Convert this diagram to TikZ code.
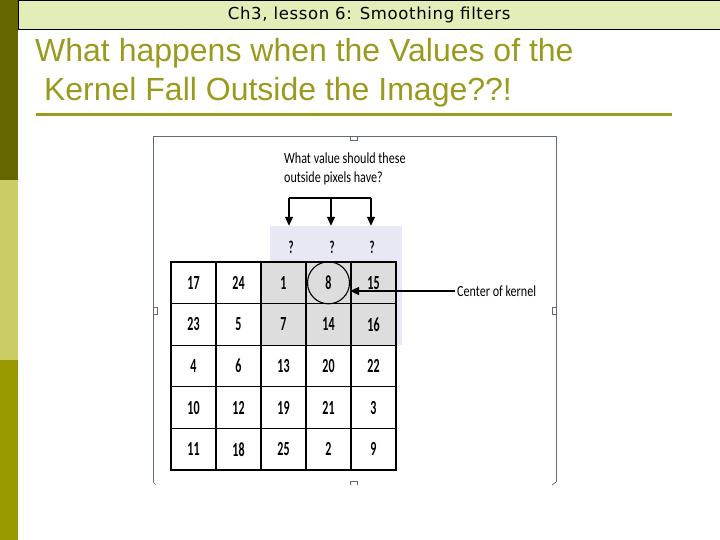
\documentclass[tikz,border=0pt]{standalone}
\usepackage{fontspec}
\setmainfont{Liberation Sans}
\newfontfamily\headfont[LetterSpace=4]{DejaVu Sans}
\newfontfamily\figfont[FakeStretch=0.78]{Carlito}
\newfontfamily\numfont[FakeStretch=0.6]{Carlito}
\usetikzlibrary{arrows.meta,positioning}
\definecolor{bardark}{HTML}{666600}
\definecolor{barlight}{HTML}{CCCC66}
\definecolor{barmid}{HTML}{999900}
\definecolor{headfill}{HTML}{E2EDB8}
\definecolor{titlecol}{HTML}{9A9A1E}
\definecolor{padfill}{HTML}{E8E8F5}
\definecolor{kerngray}{HTML}{DDDDDD}
\definecolor{framecol}{HTML}{5F6B77}
\tikzset{
	cellbox/.style={draw=black, line width=1.3pt, minimum width=45pt, minimum height=41.6pt,
		inner sep=0pt, font=\numfont\bfseries\fontsize{20}{20}\selectfont},
	qmark/.style={font=\numfont\bfseries\fontsize{18}{18}\selectfont},
	kernarr/.style={-{Triangle[length=9pt,width=8pt]}, line width=1.2pt},
	figtext/.style={font=\figfont\fontsize{15.5}{19}\selectfont, align=left, inner sep=2pt},
	titletext/.style={font=\fontsize{32}{32}\selectfont, text=titlecol, inner sep=0pt}
}
\begin{document}
\begin{tikzpicture}[x=1pt, y=-1pt]
	\useasboundingbox (0,0) rectangle (720,540);
	% side bar and header
	\fill[bardark] (0,0) rectangle (18,180);
	\fill[barlight] (0,180) rectangle (18,360);
	\fill[barmid] (0,360) rectangle (18,540);
	\node[draw=black, fill=headfill, minimum width=702pt, minimum height=29pt, inner sep=0pt,
		anchor=north west, font=\headfont\fontsize{16.5}{16.5}\selectfont] (head) at (18,0)
		{Ch3, lesson 6: Smoothing filters};
	\node[titletext, anchor=base west] (title1) at (35,62) {What happens when the Values of the};
	\node[titletext, anchor=base west] (title2) at (35,101) {\ Kernel Fall Outside the Image??!};
	\draw[titlecol, line width=3pt] (36,115) -- (672,115);
	% frame of the figure
	\draw[framecol, line width=0.9pt] (153,482) -- (153,136) -- (556,136) -- (556,482);
	\draw[framecol, line width=0.7pt, fill=white] (350,136) rectangle (357,140);
	\draw[framecol, line width=0.7pt, fill=white] (153,307) rectangle (157,314);
	\draw[framecol, line width=0.7pt, fill=white] (552,307) rectangle (556,314);
	\draw[framecol, line width=0.7pt] (350,485) -- (350,481) -- (357,481) -- (357,485);
	\draw[framecol, line width=0.7pt] (153,482) -- (156,485);
	\draw[framecol, line width=0.7pt] (556,482) -- (552,485);
	% outside pixels
	\node[fill=padfill, minimum width=132pt, minimum height=119pt, inner sep=0pt] (pad) at (336,285.5) {};
	\fill[kerngray] (261,262) rectangle (396,345.2);
	\node[figtext, anchor=north west] (question) at (282,151) {What value should these\\outside pixels have?};
	\node[qmark] (q1) at (291,247) {?};
	\node[qmark] (q2) at (332,247) {?};
	\node[qmark] (q3) at (372,247) {?};
	\coordinate (tl) at (289,198);
	\coordinate (tm) at (331,198);
	\coordinate (tr) at (371,198);
	\draw[line width=1.2pt] (tl) -- (tr);
	\draw[kernarr] (tl) -- (tl |- pad.north);
	\draw[kernarr] (tm) -- (tm |- pad.north);
	\draw[kernarr] (tr) -- (tr |- pad.north);
	% image grid
	\foreach \vals [count=\r] in {{17,24,1,8,15},{23,5,7,14,16},{4,6,13,20,22},{10,12,19,21,3},{11,18,25,2,9}}
		\foreach \v [count=\c] in \vals
			\node[cellbox] (c\r\c) at ({148.5+45*\c},{241.2+41.6*\r}) {\v};
	\node[draw, circle, line width=1.1pt, minimum size=42pt, inner sep=0pt] (ctr) at (c14) {};
	\node[figtext, anchor=west] (cklab) at (455,291) {Center of kernel};
	\draw[kernarr] (cklab.west) -- (cklab.west -| ctr.east);
\end{tikzpicture}
\end{document}
